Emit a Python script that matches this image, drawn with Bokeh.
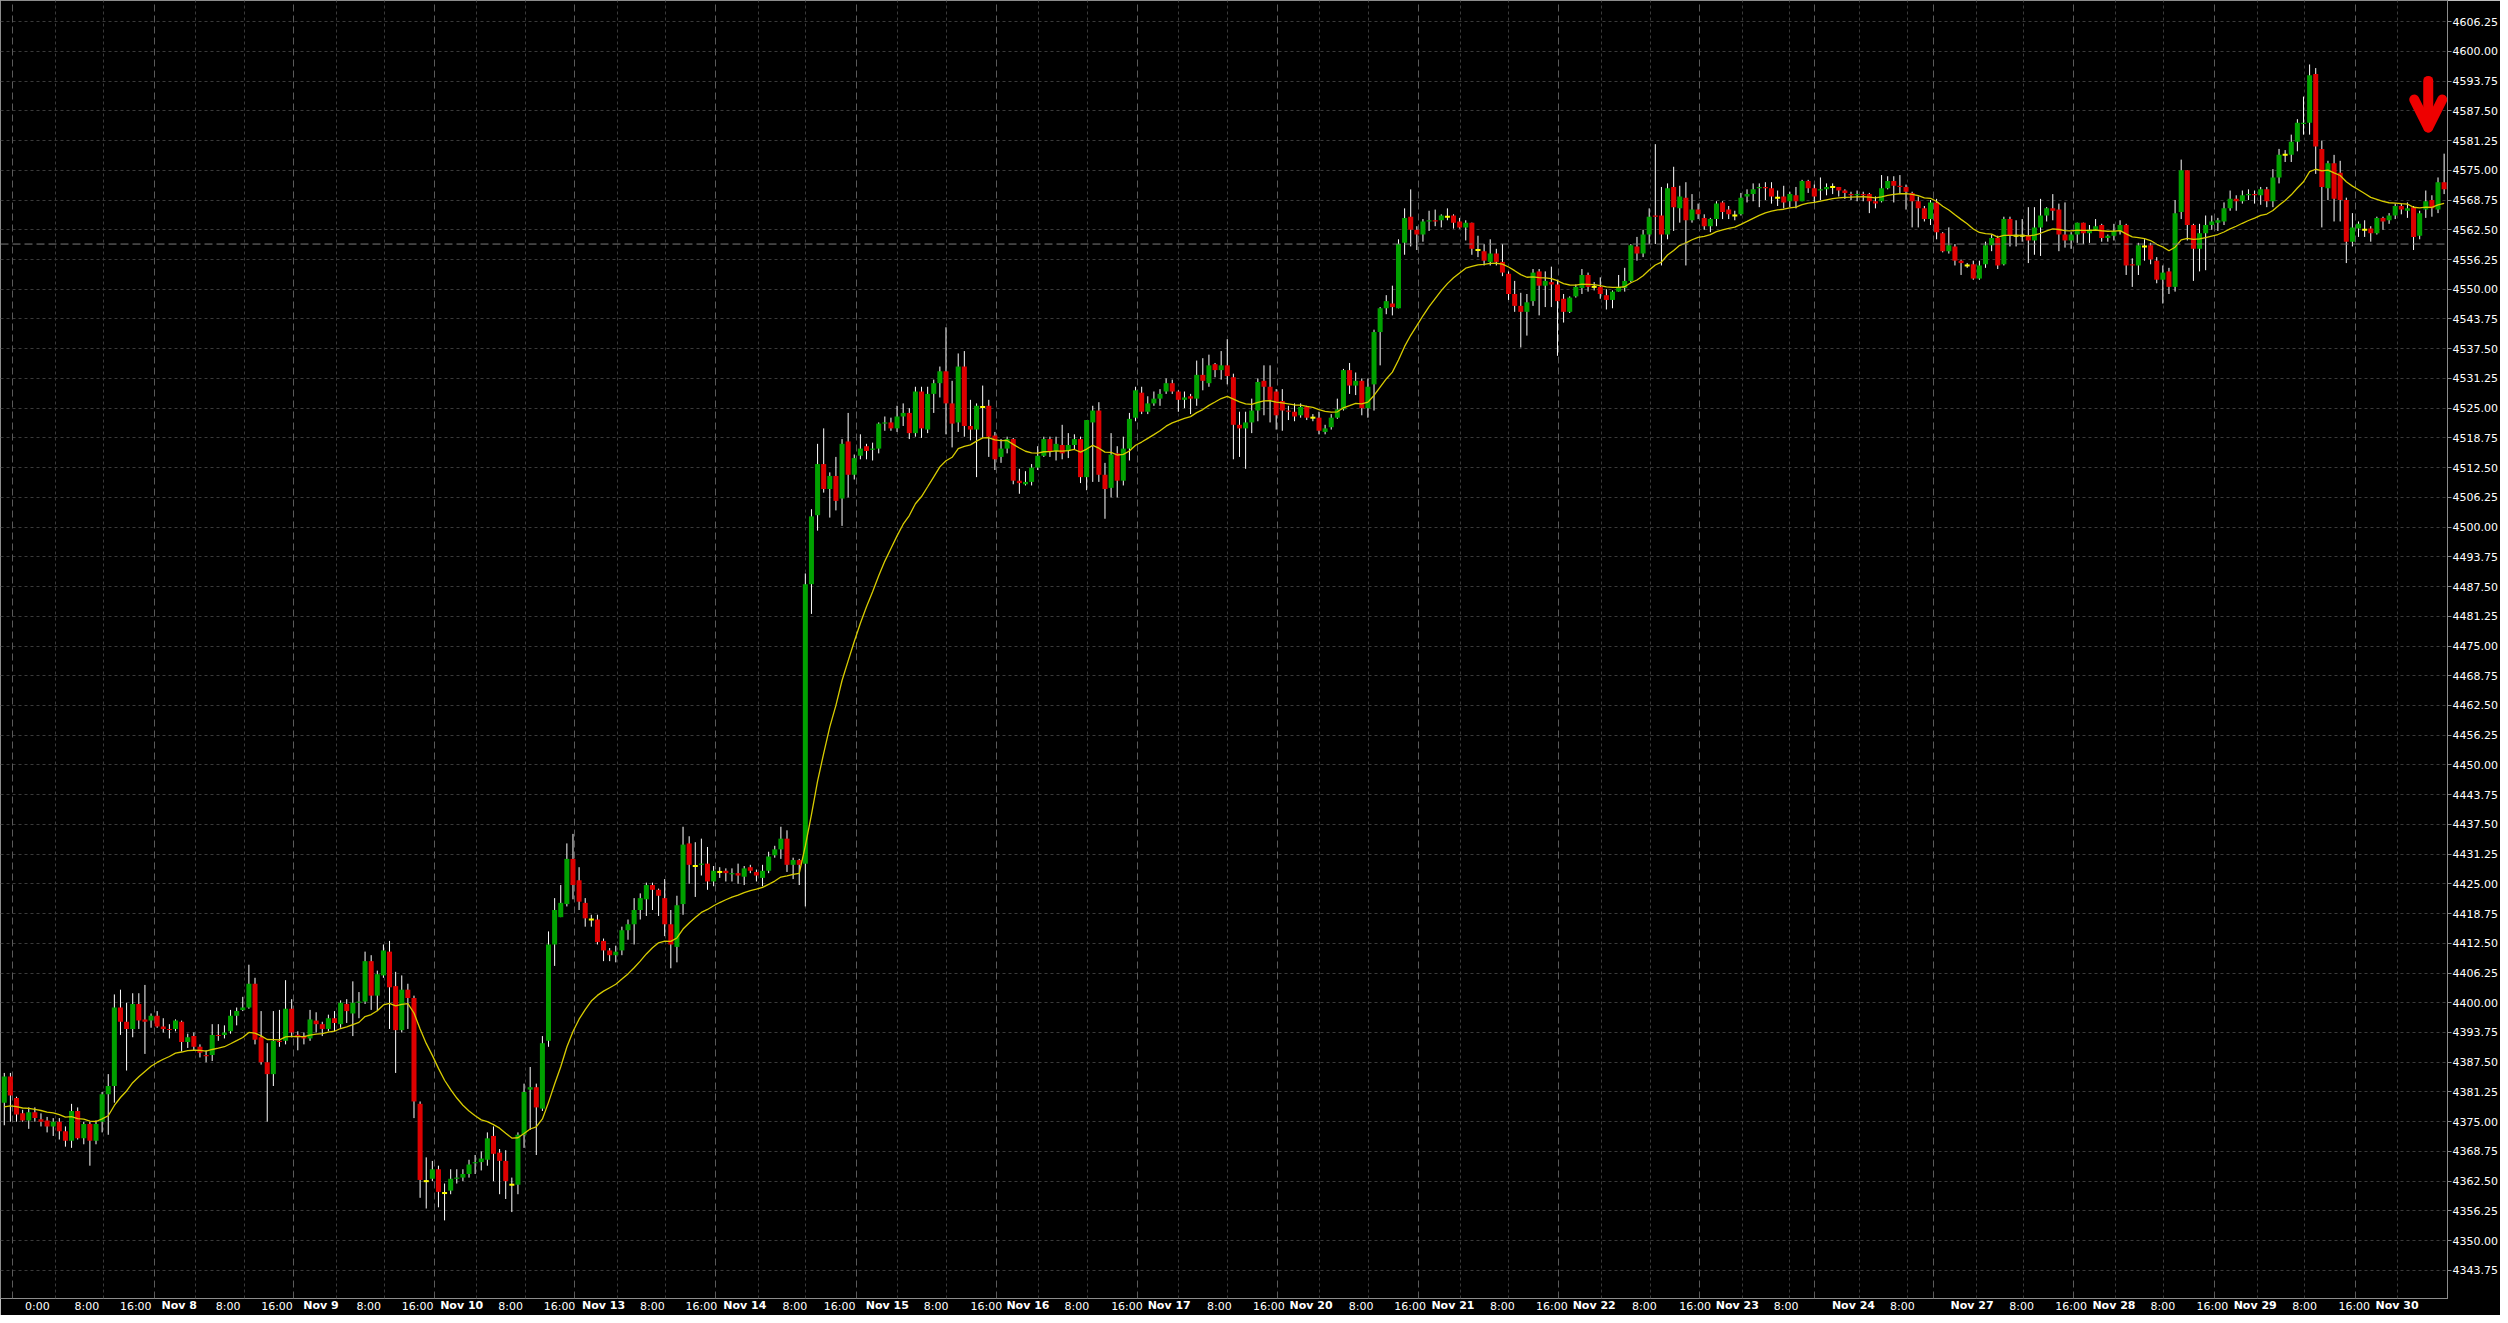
from bokeh.plotting import figure
from bokeh.models import (Range1d, FixedTicker, LinearAxis, Grid, Span, Arrow, OpenHead,
                          ColumnDataSource, PrintfTickFormatter)
from bokeh.embed import file_html
from bokeh.resources import INLINE

# ---------------- data (hourly bars) ----------------
opens = [
 4379.0,4384.5,4380.0,4376.75,4375.25,4377.0,4375.5,4375.25,4374.0,4375.0,
 4373.0,4371.0,4377.25,4371.5,4374.5,4371.0,4375.0,4380.75,4382.5,4399.0,
 4396.0,4394.5,4399.75,4396.5,4396.25,4397.25,4395.0,4394.5,4394.5,4396.0,
 4391.75,4393.0,4390.75,4389.0,4389.0,4393.25,4393.25,4394.0,4397.25,4398.5,
 4399.0,4404.0,4392.75,4387.5,4385.0,4392.0,4392.0,4398.75,4393.25,4393.0,
 4392.5,4396.25,4395.5,4394.5,4396.75,4395.5,4399.75,4397.75,4400.0,4400.25,
 4408.75,4401.5,4405.75,4410.75,4403.5,4394.25,4402.75,4401.0,4378.75,4362.5,
 4363.0,4365.0,4360.0,4360.5,4363.0,4363.25,4364.0,4366.25,4366.5,4367.0,
 4372.0,4368.5,4366.75,4361.75,4361.75,4372.25,4381.75,4382.25,4377.75,4392.0,
 4412.25,4418.0,4420.75,4430.25,4425.75,4421.0,4417.5,4417.5,4413.0,4411.0,
 4410.0,4411.0,4415.25,4416.5,4419.5,4421.75,4424.75,4423.75,4422.0,4416.5,
 4411.75,4420.75,4433.5,4428.75,4429.0,4429.25,4425.5,4427.5,4427.75,4427.0,
 4427.25,4426.5,4428.5,4427.5,4426.25,4427.75,4431.0,4432.25,4434.5,4429.0,
 4430.0,4429.25,4488.0,4502.5,4513.25,4508.0,4510.75,4506.0,4518.0,4511.0,
 4515.0,4517.0,4516.25,4516.5,4521.75,4522.0,4520.75,4523.25,4524.0,4519.75,
 4528.5,4520.5,4528.0,4530.25,4532.75,4526.0,4522.0,4533.75,4521.25,4520.5,
 4525.25,4525.5,4519.25,4514.75,4516.5,4518.5,4509.75,4509.0,4509.5,4512.5,
 4515.0,4518.5,4516.0,4517.25,4516.0,4517.25,4518.5,4510.5,4522.0,4524.5,
 4511.0,4508.25,4515.5,4509.75,4516.5,4523.0,4528.25,4524.25,4526.0,4527.0,
 4528.5,4530.25,4528.5,4526.75,4527.5,4527.0,4532.0,4530.25,4534.25,4533.0,
 4534.0,4531.5,4521.5,4520.75,4522.0,4524.5,4530.75,4529.5,4528.5,4526.5,
 4524.5,4524.25,4523.5,4525.25,4523.0,4523.0,4520.0,4521.0,4523.0,4524.75,
 4533.0,4529.75,4530.75,4525.0,4530.0,4541.0,4546.0,4547.0,4546.0,4559.75,
 4565.25,4562.5,4561.5,4564.25,4564.5,4564.5,4565.25,4565.5,4564.25,4563.0,
 4564.0,4558.25,4558.0,4555.75,4557.5,4555.75,4553.25,4549.0,4546.5,4545.25,
 4547.5,4553.75,4550.75,4551.5,4551.0,4548.0,4545.25,4548.5,4550.25,4553.0,
 4550.5,4550.5,4548.75,4547.75,4549.5,4550.25,4551.75,4559.0,4557.5,4561.5,
 4565.5,4565.5,4561.5,4571.5,4567.0,4569.25,4564.5,4566.75,4565.0,4563.25,
 4564.75,4568.25,4566.75,4565.5,4565.75,4569.5,4570.0,4571.25,4571.5,4571.25,
 4569.25,4569.5,4568.5,4569.75,4568.5,4572.75,4571.25,4570.75,4571.0,4571.5,
 4571.5,4570.75,4570.0,4569.75,4570.0,4570.0,4568.5,4568.5,4571.25,4572.75,
 4571.75,4571.5,4570.25,4568.5,4567.0,4564.75,4568.25,4561.75,4558.0,4559.0,
 4556.0,4555.0,4555.25,4552.25,4555.25,4559.25,4560.75,4555.25,4564.75,4561.25,
 4561.25,4561.25,4560.25,4563.0,4565.5,4567.0,4566.75,4561.5,4560.25,4561.5,
 4564.0,4561.75,4562.5,4563.5,4560.75,4561.25,4562.25,4563.5,4555.25,4555.0,
 4559.0,4559.25,4556.0,4552.0,4553.75,4550.5,4566.25,4575.0,4563.5,4558.5,
 4561.75,4563.5,4564.0,4564.25,4567.0,4569.0,4568.5,4569.75,4570.0,4569.75,
 4571.0,4568.5,4573.5,4578.25,4578.25,4581.0,4584.75,4585.0,4595.25,4579.5,
 4571.25,4576.5,4574.5,4568.75,4560.0,4562.75,4562.5,4562.75,4561.75,4565.0,
 4564.5,4565.5,4567.5,4566.5,4567.25,4561.25,4566.75,4568.75,4566.75,4572.5]
highs = [
 4385.25,4385.25,4380.25,4377.5,4378.0,4378.0,4376.75,4376.0,4375.75,4375.75,
 4374.0,4378.75,4378.0,4375.0,4375.0,4375.25,4381.25,4385.0,4401.75,4402.75,
 4400.0,4402.0,4402.0,4403.75,4397.75,4398.25,4396.75,4395.5,4396.5,4396.25,
 4393.5,4393.75,4391.25,4390.0,4395.5,4395.5,4395.25,4398.5,4399.0,4401.25,
 4408.0,4405.25,4398.25,4391.5,4398.25,4398.5,4404.75,4400.75,4394.0,4393.75,
 4398.5,4398.0,4396.0,4397.5,4398.25,4400.5,4400.75,4404.5,4402.25,4410.75,
 4410.0,4406.75,4412.25,4413.0,4406.5,4405.75,4404.0,4401.5,4379.25,4367.5,
 4366.75,4365.75,4362.0,4365.0,4365.0,4365.0,4367.0,4368.0,4368.75,4372.75,
 4374.0,4369.25,4369.0,4363.25,4372.75,4383.0,4386.5,4383.0,4393.0,4415.0,
 4422.0,4424.75,4433.5,4435.5,4428.5,4422.0,4418.5,4418.5,4413.5,4411.5,
 4412.0,4416.0,4417.5,4422.0,4423.0,4425.25,4425.25,4424.0,4426.0,4419.5,
 4422.5,4437.0,4435.0,4433.75,4434.5,4432.75,4428.75,4428.5,4428.25,4428.25,
 4429.25,4428.75,4429.0,4428.0,4429.0,4431.75,4433.0,4437.0,4436.25,4430.5,
 4430.25,4490.25,4503.75,4517.5,4520.75,4511.5,4514.75,4518.5,4524.0,4515.25,
 4519.5,4517.5,4517.75,4522.0,4523.25,4523.0,4525.5,4526.0,4525.0,4529.5,
 4529.5,4529.5,4531.0,4533.75,4542.0,4530.75,4536.5,4537.0,4526.75,4526.0,
 4529.75,4526.75,4520.0,4518.5,4519.0,4518.75,4512.25,4511.75,4513.25,4517.0,
 4519.0,4519.0,4519.0,4521.5,4519.75,4519.5,4519.0,4522.5,4525.5,4526.25,
 4513.5,4519.75,4517.0,4519.0,4524.0,4529.5,4529.5,4527.5,4528.5,4529.0,
 4531.25,4531.0,4528.75,4528.5,4528.0,4535.0,4535.5,4536.25,4534.5,4537.0,
 4539.5,4532.25,4524.25,4524.25,4527.0,4531.25,4534.0,4534.0,4529.0,4529.0,
 4525.5,4526.0,4526.0,4525.5,4523.75,4524.25,4521.5,4523.75,4527.0,4533.25,
 4534.5,4532.5,4531.25,4531.25,4541.5,4546.25,4548.75,4550.75,4560.5,4567.0,
 4571.0,4563.25,4564.75,4566.5,4566.75,4565.75,4567.0,4565.75,4565.0,4564.5,
 4564.0,4561.25,4559.5,4560.5,4558.5,4559.5,4553.75,4551.75,4549.25,4549.0,
 4554.25,4554.25,4553.75,4554.75,4552.0,4549.0,4548.5,4551.0,4554.25,4553.5,
 4551.5,4552.5,4550.0,4549.75,4553.0,4554.5,4559.5,4561.0,4562.5,4567.0,
 4580.5,4571.5,4572.25,4575.75,4571.75,4572.5,4570.0,4568.0,4565.75,4565.0,
 4568.5,4568.5,4567.5,4566.5,4570.25,4571.0,4572.25,4572.25,4572.5,4572.5,
 4570.75,4571.75,4570.5,4571.5,4573.0,4573.0,4572.0,4573.5,4572.25,4572.25,
 4571.5,4571.0,4570.5,4570.75,4570.5,4570.25,4569.5,4574.0,4573.75,4573.75,
 4574.0,4572.0,4570.5,4569.5,4567.5,4568.75,4569.0,4562.0,4563.0,4559.5,
 4556.25,4555.5,4556.0,4556.0,4560.0,4561.5,4561.25,4565.25,4565.25,4564.5,
 4564.75,4567.25,4567.25,4569.0,4567.25,4570.0,4568.0,4568.25,4562.0,4564.0,
 4564.0,4563.5,4564.75,4563.75,4561.5,4563.75,4564.5,4563.75,4556.5,4559.75,
 4560.5,4559.75,4556.75,4555.0,4554.5,4568.75,4577.25,4575.0,4563.75,4563.75,
 4565.5,4565.5,4565.0,4568.25,4570.75,4569.75,4570.75,4571.0,4570.75,4571.5,
 4571.5,4575.25,4579.5,4579.25,4582.5,4585.75,4590.5,4597.25,4596.5,4581.25,
 4577.0,4578.25,4577.0,4569.25,4566.0,4564.25,4564.5,4563.25,4565.25,4565.25,
 4566.0,4568.0,4568.0,4568.25,4567.5,4566.5,4570.75,4569.75,4573.5,4578.5]
lows = [
 4374.25,4375.0,4375.0,4375.0,4373.5,4375.0,4374.0,4372.75,4372.0,4371.25,
 4369.75,4369.5,4371.25,4370.25,4365.75,4370.25,4372.75,4372.25,4379.0,4393.25,
 4385.75,4392.75,4394.5,4389.25,4394.75,4394.75,4393.75,4392.5,4394.0,4389.75,
 4390.5,4390.0,4388.5,4387.5,4387.75,4392.0,4392.5,4393.5,4395.25,4398.25,
 4398.75,4391.25,4387.0,4375.0,4382.5,4390.75,4391.25,4392.75,4390.0,4391.25,
 4392.0,4393.75,4393.0,4394.0,4394.0,4394.75,4395.75,4393.0,4396.75,4399.75,
 4398.5,4398.25,4405.25,4394.5,4385.25,4393.75,4394.5,4375.75,4359.0,4356.75,
 4362.5,4357.0,4354.25,4359.75,4362.0,4362.5,4363.25,4364.0,4364.75,4365.75,
 4362.5,4359.75,4358.75,4356.0,4359.75,4369.5,4373.25,4368.0,4377.25,4390.75,
 4407.75,4418.0,4420.25,4421.75,4419.5,4416.0,4416.0,4412.25,4408.75,4408.75,
 4408.5,4410.0,4413.25,4412.25,4417.5,4418.25,4419.5,4418.25,4414.0,4407.25,
 4408.5,4418.5,4425.0,4422.25,4426.75,4423.75,4424.5,4426.25,4425.5,4425.5,
 4425.0,4424.75,4427.25,4425.5,4424.5,4427.25,4430.5,4430.25,4427.5,4426.0,
 4424.75,4420.25,4481.75,4499.25,4507.25,4502.0,4503.5,4500.25,4506.25,4510.0,
 4514.25,4514.25,4514.0,4515.5,4520.25,4520.25,4520.0,4521.25,4518.5,4519.0,
 4518.75,4519.75,4524.0,4527.25,4519.5,4516.75,4520.0,4519.0,4518.25,4510.5,
 4518.75,4514.75,4512.0,4513.5,4515.5,4509.0,4507.0,4508.75,4508.75,4512.0,
 4514.75,4514.75,4514.0,4514.25,4514.5,4516.25,4509.25,4507.75,4509.5,4509.5,
 4501.75,4506.25,4506.25,4508.75,4514.0,4522.25,4523.75,4523.75,4525.5,4525.5,
 4528.0,4528.0,4524.25,4525.0,4523.75,4525.5,4528.75,4529.5,4531.5,4531.0,
 4530.0,4514.25,4514.75,4512.25,4519.75,4522.25,4523.5,4522.0,4520.5,4520.25,
 4522.5,4522.25,4523.0,4522.5,4522.25,4519.5,4519.5,4520.5,4522.75,4524.5,
 4528.0,4527.75,4523.5,4523.0,4524.5,4534.0,4544.75,4544.5,4546.0,4557.25,
 4559.0,4558.25,4560.0,4562.25,4563.25,4563.0,4564.5,4562.75,4562.75,4560.25,
 4557.25,4556.75,4555.0,4555.0,4555.0,4552.75,4547.75,4545.25,4537.75,4540.25,
 4546.5,4544.5,4546.25,4546.25,4536.0,4543.0,4545.0,4548.25,4549.0,4549.5,
 4549.75,4548.0,4545.75,4546.0,4549.5,4549.5,4551.5,4556.0,4556.75,4559.5,
 4559.5,4555.0,4560.5,4562.25,4564.0,4555.0,4564.0,4564.75,4562.5,4562.0,
 4563.25,4564.75,4564.75,4564.5,4565.5,4568.25,4568.5,4567.25,4568.75,4568.0,
 4567.5,4567.0,4567.25,4567.0,4568.5,4570.25,4568.25,4568.75,4569.75,4570.0,
 4569.5,4569.0,4568.75,4568.5,4568.5,4566.0,4567.0,4568.25,4571.0,4568.25,
 4570.0,4566.75,4563.0,4563.0,4564.25,4563.5,4560.5,4557.75,4557.5,4555.0,
 4553.0,4554.5,4552.0,4552.0,4554.5,4558.0,4554.25,4555.0,4559.0,4559.0,
 4560.0,4555.5,4557.25,4557.0,4564.25,4564.5,4558.0,4558.75,4558.5,4559.75,
 4559.5,4559.75,4562.25,4560.0,4560.0,4560.25,4561.5,4553.0,4550.5,4553.0,
 4556.0,4555.25,4551.25,4547.0,4549.0,4549.5,4564.75,4560.25,4551.75,4553.75,
 4554.0,4562.5,4562.25,4563.5,4566.5,4566.5,4568.0,4568.75,4568.0,4567.75,
 4567.25,4567.25,4572.25,4576.75,4576.75,4579.0,4582.5,4582.5,4574.25,4563.0,
 4568.75,4564.25,4564.25,4555.5,4559.0,4561.0,4561.0,4560.0,4561.5,4562.5,
 4563.75,4564.75,4565.75,4565.0,4558.25,4560.5,4565.0,4565.25,4566.0,4570.0]
closes = [
 4384.5,4380.5,4376.5,4375.25,4377.0,4375.75,4375.0,4374.0,4375.0,4373.0,
 4371.0,4377.25,4371.5,4374.5,4371.0,4374.5,4380.75,4382.5,4399.0,4396.0,
 4394.5,4399.75,4396.25,4396.0,4397.25,4395.0,4394.5,4394.25,4396.25,4391.75,
 4392.75,4390.75,4389.5,4388.75,4393.25,4393.0,4393.75,4397.25,4398.25,4399.0,
 4404.0,4392.25,4387.5,4385.0,4392.0,4391.75,4398.75,4393.75,4392.75,4392.5,
 4396.5,4395.5,4394.5,4396.75,4395.75,4400.0,4398.25,4400.0,4400.25,4408.75,
 4401.5,4406.0,4411.0,4403.25,4394.25,4402.75,4401.0,4379.25,4362.75,4362.5,
 4365.0,4360.25,4360.0,4363.0,4363.25,4364.0,4366.0,4366.5,4367.25,4371.5,
 4368.25,4366.75,4362.5,4361.75,4372.25,4381.25,4382.25,4378.0,4391.5,4412.25,
 4419.5,4421.0,4430.25,4424.75,4421.25,4417.75,4417.5,4412.75,4411.0,4410.0,
 4410.75,4415.25,4416.5,4419.5,4422.0,4424.75,4423.75,4422.5,4416.5,4412.25,
 4420.5,4433.25,4429.0,4428.75,4429.25,4425.5,4427.75,4427.5,4427.25,4427.25,
 4426.75,4428.25,4427.75,4426.75,4427.75,4430.75,4432.25,4434.5,4429.0,4430.0,
 4429.0,4488.0,4502.25,4513.25,4508.0,4510.75,4505.5,4517.5,4511.0,4514.5,
 4516.5,4516.0,4516.5,4521.75,4522.0,4520.75,4523.25,4524.0,4519.75,4528.5,
 4520.75,4528.0,4530.25,4532.75,4526.0,4521.75,4533.75,4521.25,4520.5,4525.5,
 4525.25,4519.0,4514.25,4516.5,4518.5,4509.75,4509.25,4509.5,4512.5,4515.0,
 4518.5,4516.0,4517.5,4515.5,4517.25,4518.5,4510.5,4522.5,4524.5,4511.0,
 4508.0,4515.25,4509.75,4516.5,4522.75,4528.75,4524.25,4526.0,4527.0,4528.0,
 4530.25,4528.5,4526.75,4527.25,4527.0,4532.0,4530.75,4534.0,4533.0,4534.0,
 4531.75,4521.5,4520.75,4522.0,4524.5,4530.5,4529.5,4526.75,4523.5,4524.5,
 4524.25,4523.25,4525.25,4523.0,4523.0,4520.25,4520.75,4523.0,4524.75,4533.0,
 4529.75,4530.75,4525.0,4529.5,4541.0,4546.0,4547.5,4546.25,4559.5,4565.0,
 4562.5,4561.5,4564.25,4564.5,4564.25,4565.5,4565.25,4564.0,4563.0,4564.0,
 4558.5,4558.25,4556.0,4557.5,4555.75,4553.5,4549.0,4546.5,4545.25,4547.25,
 4553.5,4550.75,4551.75,4551.0,4547.5,4545.25,4548.25,4550.5,4553.0,4550.5,
 4550.5,4549.0,4547.75,4549.5,4550.5,4551.75,4559.25,4557.5,4561.5,4565.25,
 4565.25,4561.5,4571.25,4567.25,4569.5,4564.5,4566.75,4565.75,4563.25,4564.75,
 4568.0,4566.25,4565.75,4565.5,4569.25,4570.0,4571.0,4571.5,4571.25,4569.5,
 4569.25,4568.25,4570.0,4568.5,4572.75,4571.25,4569.5,4571.0,4571.5,4571.5,
 4570.75,4570.25,4569.75,4570.0,4569.75,4568.5,4568.0,4571.25,4572.75,4571.75,
 4571.5,4570.5,4568.5,4567.0,4564.75,4568.25,4562.0,4558.0,4559.25,4556.0,
 4555.5,4555.0,4552.25,4555.0,4559.25,4560.75,4555.0,4564.75,4561.25,4561.25,
 4561.25,4560.25,4563.0,4565.5,4567.0,4566.5,4561.5,4560.25,4561.5,4564.0,
 4561.75,4562.5,4563.25,4560.75,4561.25,4562.25,4563.5,4555.0,4555.0,4559.25,
 4559.0,4556.25,4552.0,4553.5,4550.5,4566.0,4575.0,4563.5,4558.5,4561.75,
 4563.5,4564.25,4564.5,4567.0,4569.0,4568.5,4569.75,4570.0,4569.75,4571.0,
 4568.5,4573.5,4578.25,4578.25,4581.0,4585.0,4585.0,4595.0,4580.0,4571.5,
 4576.5,4569.0,4568.75,4560.0,4563.0,4563.75,4562.5,4561.75,4565.0,4564.25,
 4565.5,4567.5,4566.75,4567.0,4561.0,4566.0,4568.5,4567.0,4572.5,4571.0]

ma_period = 20          # exponential moving average drawn in yellow
ma_start = 4378.1       # value of the average at the first bar
level_line = 4559.5     # grey dashed horizontal line

price_ticks = [4343.75, 4350.0, 4356.25, 4362.5, 4368.75, 4375.0, 4381.25, 4387.5, 4393.75,
               4400.0, 4406.25, 4412.5, 4418.75, 4425.0, 4431.25, 4437.5, 4443.75, 4450.0,
               4456.25, 4462.5, 4468.75, 4475.0, 4481.25, 4487.5, 4493.75, 4500.0, 4506.25,
               4512.5, 4518.75, 4525.0, 4531.25, 4537.5, 4543.75, 4550.0, 4556.25, 4562.5,
               4568.75, 4575.0, 4581.25, 4587.5, 4593.75, 4600.0, 4606.25]

time_pos = [5.4, 13.5, 21.5, 36.6, 44.6, 59.6, 67.6, 82.8, 90.8, 106.0, 114.0, 129.3, 136.6,
            152.4, 160.6, 175.4, 183.6, 198.7, 206.8, 221.9, 229.9, 245.0, 253.1, 268.2, 276.5,
            291.4, 310.4, 329.9, 338.0, 353.0, 361.1, 376.2, 384.3]
time_labels = ["0:00", "8:00", "16:00", "8:00", "16:00", "8:00", "16:00", "8:00", "16:00",
               "8:00", "16:00", "8:00", "16:00", "8:00", "16:00", "8:00", "16:00", "8:00",
               "16:00", "8:00", "16:00", "8:00", "16:00", "8:00", "16:00", "8:00", "8:00",
               "8:00", "16:00", "8:00", "16:00", "8:00", "16:00"]
date_pos = [28.6, 51.8, 74.8, 98.0, 121.1, 144.4, 167.4, 190.5, 213.7, 236.9, 260.0, 283.4,
            302.4, 321.8, 345.0, 368.1, 391.3]
date_labels = ["Nov 8", "Nov 9", "Nov 10", "Nov 13", "Nov 14", "Nov 15", "Nov 16", "Nov 17",
               "Nov 20", "Nov 21", "Nov 22", "Nov 23", "Nov 24", "Nov 27", "Nov 28", "Nov 29",
               "Nov 30"]
grid_day = [1.4, 24.5, 47.3, 70.3, 93.3, 116.3, 139.3, 162.3, 185.3, 208.2, 231.2, 254.2,
            277.2, 296.1, 315.5, 338.4, 361.5, 384.5]
grid_minor = [8.3, 16.3, 31.3, 39.3, 54.4, 62.2, 77.3, 85.2, 100.3, 108.2, 123.3, 131.1,
              146.1, 154.1, 169.2, 177.1, 192.1, 200.1, 215.1, 223.1, 238.2, 246.0, 261.2,
              269.2, 284.3, 292.0, 303.4, 311.2, 322.5, 330.2, 345.3, 353.1, 368.4, 376.1, 391.4]

# ---------------- styles ----------------
BG = "#000000"
FRAME = "#8c8c8c"
TXT = "#ffffff"
UP = "#00a000"
DOWN = "#dd0000"
DOJI = "#ffff00"
MA_COL = "#d8cc00"
FONT = "DejaVu Sans"

n = len(opens)
xs = list(range(n))

body_x, body_top, body_bot, body_col = [], [], [], []
doji_x, doji_y = [], []
for i in range(n):
    o, c = opens[i], closes[i]
    if o == c:
        doji_x.append(i); doji_y.append(c)
    else:
        body_x.append(i)
        body_top.append(max(o, c)); body_bot.append(min(o, c))
        body_col.append(UP if c > o else DOWN)

alpha = 2.0 / (ma_period + 1)
ma = [ma_start]
for c in closes[1:]:
    ma.append(ma[-1] + alpha * (c - ma[-1]))

p = figure(width=2500, height=1315,
           x_range=Range1d(-0.62, 399.55), y_range=Range1d(4337.83, 4610.7),
           output_backend="svg", toolbar_location=None,
           y_axis_location="right", x_axis_location=None,
           background_fill_color=BG, border_fill_color=BG,
           min_border_left=0, min_border_right=0, min_border_top=0, min_border_bottom=0)
p.outline_line_color = FRAME
p.outline_line_width = 1
for g in p.xgrid:
    g.visible = False

# y axis
ya = p.yaxis[0]
ya.ticker = FixedTicker(ticks=price_ticks)
ya.formatter = PrintfTickFormatter(format="%.2f")
ya.major_label_text_font = FONT
ya.major_label_text_font_size = "11px"
ya.major_label_text_color = TXT
ya.major_tick_out = 4
ya.major_tick_in = 0
ya.major_tick_line_color = FRAME
ya.minor_tick_line_color = None
ya.axis_line_color = FRAME
ya.major_label_standoff = 1

p.ygrid.grid_line_color = "#3a3a3a"
p.ygrid.grid_line_dash = "3 3"
p.ygrid.grid_line_width = 1

# vertical grid lines
g_day = Grid(dimension=0, ticker=FixedTicker(ticks=grid_day),
             grid_line_color="#5a5a5a", grid_line_dash="7 4", grid_line_width=1)
g_min = Grid(dimension=0, ticker=FixedTicker(ticks=grid_minor),
             grid_line_color="#3a3a3a", grid_line_dash="3 3", grid_line_width=1)
p.add_layout(g_day)
p.add_layout(g_min)

# x axes: time labels (regular) and date labels (bold) on the same row
ax_t = LinearAxis(ticker=FixedTicker(ticks=time_pos),
                  major_label_overrides=dict(zip(time_pos, time_labels)))
ax_d = LinearAxis(ticker=FixedTicker(ticks=date_pos),
                  major_label_overrides=dict(zip(date_pos, date_labels)))
for ax in (ax_t, ax_d):
    ax.axis_line_color = None
    ax.major_tick_line_color = None
    ax.minor_tick_line_color = None
    ax.major_tick_out = 0
    ax.major_tick_in = 0
    ax.minor_tick_out = 0
    ax.major_label_text_font = FONT
    ax.major_label_text_font_size = "11px"
    ax.major_label_text_color = TXT
ax_t.major_label_standoff = 1
ax_d.major_label_standoff = -17
ax_d.major_label_text_font_style = "bold"
p.add_layout(ax_t, "below")
p.add_layout(ax_d, "below")

# level line
p.add_layout(Span(location=level_line, dimension="width", line_color="#7a7a7a",
                  line_dash="8 4", line_width=1))

# candles
p.segment(x0=xs, y0=lows, x1=xs, y1=highs, line_color="#ffffff", line_width=1)
bsrc = ColumnDataSource(dict(x=body_x, top=body_top, bottom=body_bot, color=body_col))
p.vbar(x="x", top="top", bottom="bottom", width=0.82, fill_color="color",
       line_color=None, source=bsrc)
p.rect(x=doji_x, y=doji_y, width=0.82, height=2, height_units="screen",
       fill_color=DOJI, line_color=None)

# moving average
p.line(xs, ma, line_color=MA_COL, line_width=1.3)

# red arrow marker (kept inside the frame so it is not clipped)
arrow = Arrow(end=OpenHead(size=28, line_color="#ee0000", line_width=10,
                           line_cap="round", line_join="round"),
              x_start=396.4, y_start=4593.8, x_end=396.4, y_end=4584.0,
              line_color="#ee0000", line_width=10, line_cap="round", level="overlay")
p.add_layout(arrow)

open("out.html", "w").write(file_html(p, INLINE))
